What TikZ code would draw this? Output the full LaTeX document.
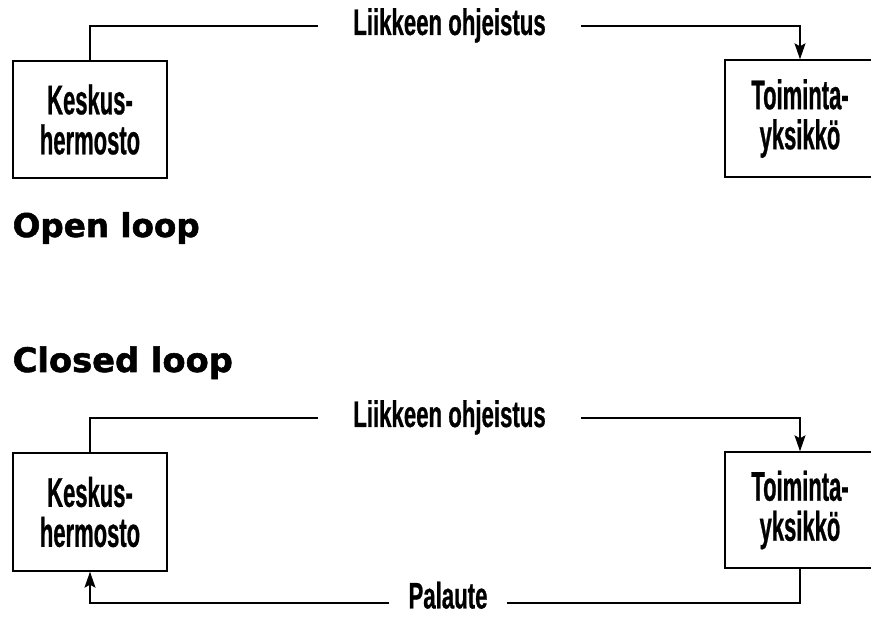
\documentclass[tikz,border=0pt]{standalone}
\usepackage{fontspec}
\usetikzlibrary{arrows.meta}
\newfontfamily\laatikkofont[FakeStretch=0.53,FakeBold=0.6]{Liberation Sans Bold}
\newfontfamily\viivafont[FakeStretch=0.6,FakeBold=0.6]{Liberation Sans Bold}
\newfontfamily\otsikkofont[FakeBold=1.6]{DejaVu Sans Bold}

\tikzset{
    laatikko/.style={draw, line width=1.4pt, minimum width=154pt, minimum height=117pt,
        align=center, inner sep=0pt, font={\laatikkofont\fontsize{41.5}{40}\selectfont}},
    viesti/.style={anchor=base, inner xsep=35pt, inner ysep=0pt,
        font={\viivafont\fontsize{37}{38}\selectfont}},
    otsikko/.style={anchor=base west, inner sep=0pt},
    yhteys/.style={line width=1.3pt},
    nuoli/.style={yhteys, -{Stealth[length=16pt, width=11pt, inset=3pt]}},
}

\begin{document}
\begin{tikzpicture}[x=1pt,y=-1pt]
    	\useasboundingbox (0,0) rectangle (871,617);

    	% open loop
    	\node[laatikko] (kesk1) at (90,119.5) {Keskus-\\hermosto};
    	\node[laatikko, minimum width=150pt] (toim1) at (800,118.5) {Toiminta-\\yksikkö};
    	\node[viesti] (ohje1) at (449.5,35) {Liikkeen ohjeistus};
    	\draw[yhteys] (kesk1.north) |- ([yshift=9pt]ohje1.base west);
    	\draw[nuoli] ([yshift=9pt]ohje1.base east) -| (toim1.north);
    	\node[otsikko, font={\otsikkofont\fontsize{32.6}{34}\selectfont}] (avoin) at (12.5,237) {Open loop};

    	% closed loop
    	\node[otsikko, font={\otsikkofont\fontsize{33.7}{35}\selectfont}] (suljettu) at (12.5,372) {Closed loop};
    	\node[laatikko, minimum height=118pt] (kesk2) at (90,512) {Keskus-\\hermosto};
    	\node[laatikko, minimum width=150pt, minimum height=116pt] (toim2) at (800,510) {Toiminta-\\yksikkö};
    	\node[viesti] (ohje2) at (449.5,427) {Liikkeen ohjeistus};
    	\node[viesti, inner xsep=19pt] (pal) at (448,608.5) {Palaute};
    	\draw[yhteys] (kesk2.north) |- ([yshift=9pt]ohje2.base west);
    	\draw[nuoli] ([yshift=9pt]ohje2.base east) -| (toim2.north);
    	\draw[yhteys] (toim2.south) |- ([yshift=5.5pt]pal.base east);
    	\draw[nuoli] ([yshift=5.5pt]pal.base west) -| (kesk2.south);

\end{tikzpicture}
\end{document}
